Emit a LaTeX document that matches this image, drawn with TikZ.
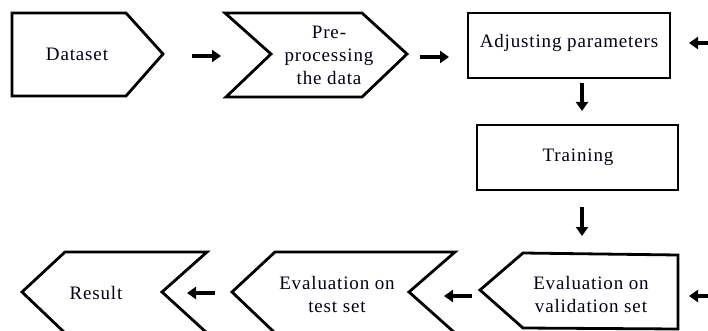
\documentclass[tikz,border=0pt]{standalone}
\usepackage{fontspec}
\setmainfont{Liberation Serif}[LetterSpace=4.5]
\usetikzlibrary{arrows.meta}
\begin{document}
\begin{tikzpicture}[x=1pt, y=-1pt,
  shapeline/.style={draw=black, line width=2.8pt, line join=miter},
  lbl/.style={font=\fontsize{19}{23}\selectfont, align=center, inner sep=0pt, text=black!90!blue},
  arr/.style={draw=black, line width=3.5pt, -{Triangle[length=9pt, width=12pt]}}]
\useasboundingbox (0,0) rectangle (708,331);
\clip (0,0) rectangle (708,331);

% --- top row ---
\draw[shapeline] (12,13) -- (126,13) -- (163,54) -- (126,96) -- (12,96) -- cycle;
\node[lbl] (dataset) at (77,54) {Dataset};

\draw[shapeline] (225,13) -- (362,13) -- (407,54) -- (362,97) -- (226,97) -- (271,54) -- cycle;
\node[lbl] (prep) at (329,55) {Pre-\\processing\\the data};

\draw[shapeline] (468,13) rectangle (670,78);
\node[lbl] (adjust) at (569,43) {Adjusting parameters};

% --- middle ---
\draw[shapeline] (477,125) rectangle (678,190);
\node[lbl] (train) at (578,157) {Training};

% --- bottom row ---
\draw[shapeline] (523,253) -- (678,255) -- (678,329) -- (523,328) -- (480,290) -- cycle;
\node[lbl] (evalval) at (591,294) {Evaluation on\\validation set};

\draw[shapeline] (232,292) -- (275,252) -- (455,252) -- (409,292) -- (455,333) -- (275,333) -- cycle;
\node[lbl] (evaltest) at (337,294) {Evaluation on\\test set};

\draw[shapeline] (22,292) -- (65,252) -- (207,252) -- (162,292) -- (207,333) -- (65,333) -- cycle;
\node[lbl] (result) at (96,293) {Result};

% --- connectors ---
\coordinate (a1s) at (192,56);  \coordinate (a1e) at (221,56);
\coordinate (a2s) at (420,57);  \coordinate (a2e) at (449,57);
\coordinate (a3s) at (720,43);  \coordinate (a3e) at (689,43);
\coordinate (a4s) at (582,83);  \coordinate (a4e) at (582,111);
\coordinate (a5s) at (582,207); \coordinate (a5e) at (582,236);
\coordinate (a6s) at (720,296); \coordinate (a6e) at (689,296);
\coordinate (a7s) at (472,296); \coordinate (a7e) at (444,296);
\coordinate (a8s) at (215,293); \coordinate (a8e) at (187,293);

\foreach \s/\e in {a1s/a1e, a2s/a2e, a3s/a3e, a4s/a4e, a5s/a5e, a6s/a6e, a7s/a7e, a8s/a8e}
  \draw[arr] (\s) -- (\e);
\end{tikzpicture}
\end{document}
